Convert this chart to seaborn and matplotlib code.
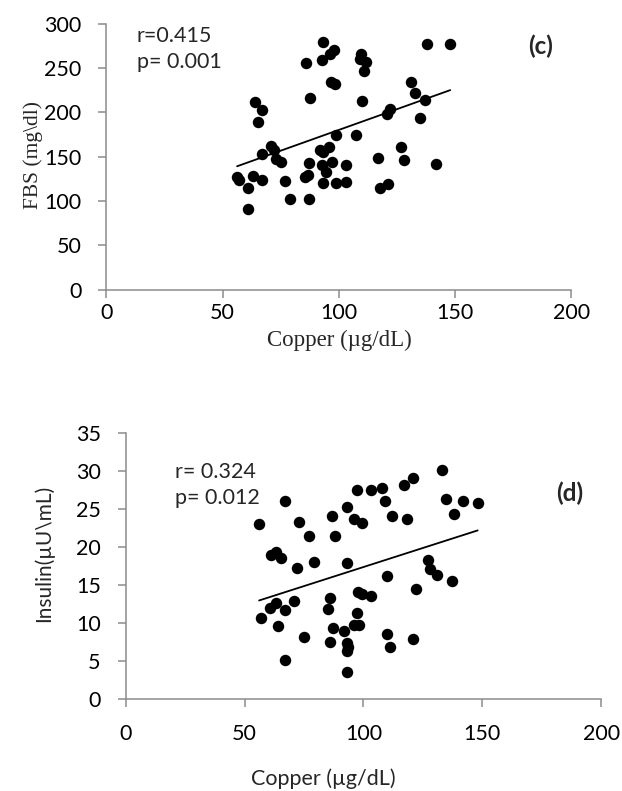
import pandas as pd
import seaborn as sns
import matplotlib.pyplot as plt

# panel (c): copper vs fasting blood sugar
copper_c = [56.2, 57.1, 63.1, 67.1, 60.9, 60.9, 67.1, 71.0, 72.0, 73.1,
            74.9, 77.0, 78.9, 63.8, 67.1, 65.0, 87.0, 85.3, 86.5, 87.0,
            93.2, 98.9, 102.9, 91.7, 93.2, 95.7, 92.9, 97.0, 94.3, 102.9,
            98.9, 107.5, 93.1, 86.0, 92.9, 96.0, 97.9, 96.8, 98.2, 87.7,
            109.7, 109.2, 111.8, 110.8, 109.9, 116.8, 117.8, 121.1, 126.8, 127.8,
            141.9, 120.8, 121.8, 130.9, 132.9, 136.9, 134.9, 137.9, 147.9]
fbs = [127.2, 123.5, 128.0, 123.5, 114.8, 90.4, 152.8, 162.2, 157.3, 147.9,
       144.1, 122.7, 102.1, 211.8, 203.2, 189.3, 143.0, 127.2, 129.1, 102.1,
       119.8, 119.8, 121.6, 157.3, 155.4, 161.0, 140.4, 143.8, 132.9, 140.4,
       174.2, 175.0, 279.5, 256.2, 259.6, 266.4, 270.1, 234.4, 231.8, 216.3,
       266.4, 260.7, 256.9, 246.4, 212.6, 149.1, 114.8, 119.0, 161.0, 146.0,
       142.3, 198.7, 204.3, 234.4, 222.4, 214.5, 194.2, 277.7, 277.7]

# panel (d): copper vs insulin
copper_d = [56.1, 67.0, 72.9, 77.1, 86.9, 88.0, 92.9, 96.0, 99.2, 97.1,
            103.0, 107.9, 109.0, 111.9, 117.0, 121.0, 118.2, 133.1, 134.9, 142.0,
            148.0, 138.2, 61.0, 63.1, 65.2, 72.2, 79.1, 92.9, 110.0, 127.0,
            127.9, 131.0, 137.1, 122.1, 56.9, 60.7, 63.1, 67.0, 70.9, 63.9,
            75.0, 67.0, 85.9, 84.9, 87.0, 85.9, 91.9, 92.9, 93.6, 92.9,
            92.9, 97.1, 96.0, 98.2, 97.8, 99.2, 103.0, 110.0, 111.2, 121.0]
insulin = [23.0, 26.1, 23.3, 21.4, 24.1, 21.5, 25.2, 23.7, 23.1, 27.5,
           27.5, 27.8, 26.0, 24.1, 28.1, 29.0, 23.7, 30.1, 26.3, 26.1,
           25.8, 24.3, 19.0, 19.3, 18.6, 17.2, 18.0, 17.9, 16.2, 18.3,
           17.1, 16.3, 15.5, 14.5, 10.7, 12.0, 12.6, 11.7, 12.9, 9.7,
           8.2, 5.2, 13.3, 11.9, 9.4, 7.5, 9.0, 7.4, 6.9, 6.3,
           3.6, 11.4, 9.8, 9.8, 14.1, 13.8, 13.6, 8.6, 6.9, 7.9]

sns.set_style("ticks")
plt.rcParams["font.family"] = ["Lato", "DejaVu Sans"]

df_c = pd.DataFrame({"copper": copper_c, "fbs": fbs})
df_d = pd.DataFrame({"copper": copper_d, "insulin": insulin})

fig = plt.figure(figsize=(6.22, 7.91), dpi=100)
ax1 = fig.add_axes([0.1712, 0.634, 0.7473, 0.3357])
ax2 = fig.add_axes([0.2021, 0.1157, 0.7646, 0.3373])

dots = {"s": 68, "linewidths": 0, "alpha": 1}
fit = {"linewidth": 1.3}
sns.regplot(data=df_c, x="copper", y="fbs", ci=None, color="black",
            scatter_kws=dots, line_kws=fit, ax=ax1)
sns.regplot(data=df_d, x="copper", y="insulin", ci=None, color="black",
            scatter_kws=dots, line_kws=fit, ax=ax2)

gray = "#8c8c8c"
for ax in (ax1, ax2):
    ax.set_xlim(0, 200)
    ax.set_xticks(range(0, 201, 50))
    sns.despine(ax=ax)
    for side in ("left", "bottom"):
        ax.spines[side].set_color(gray)
        ax.spines[side].set_linewidth(1.1)
    ax.tick_params(length=6, width=1.1, color=gray, labelcolor="black",
                   labelsize=15.5, pad=12)
ax1.tick_params(axis="x", pad=4)

ax1.set_ylim(0, 300)
ax1.set_yticks(range(0, 301, 50))
ax2.set_ylim(0, 35)
ax2.set_yticks(range(0, 36, 5))

# top panel: serif axis titles
ax1.set_xlabel("Copper (µg/dL)", family="Liberation Serif", fontsize=16.5)
ax1.set_ylabel(r"FBS (mg\dl)", family="Liberation Serif", fontsize=15.5)
ax1.xaxis.set_label_coords(0.5, -0.15)
ax1.yaxis.set_label_coords(-0.137, 0.507)

ax2.set_xlabel("Copper (µg/dL)", fontsize=15.5)
ax2.set_ylabel(r"Insulin(µU\mL)", fontsize=15)
ax2.xaxis.set_label_coords(0.415, -0.258)
ax2.yaxis.set_label_coords(-0.15, 0.549)

ax1.text(13, 298, "r=0.415\np= 0.001", ha="left", va="top",
         fontsize=15.5, linespacing=1.4)
ax1.text(186.7, 274.6, "(c)", ha="center", va="center",
         fontsize=17.5, fontweight="bold")
ax2.text(20.7, 31.2, "r= 0.324\np= 0.012", ha="left", va="top",
         fontsize=15.5, linespacing=1.4)
ax2.text(186.8, 27.1, "(d)", ha="center", va="center",
         fontsize=17.5, fontweight="bold")

fig.savefig("out.png", dpi=100)
